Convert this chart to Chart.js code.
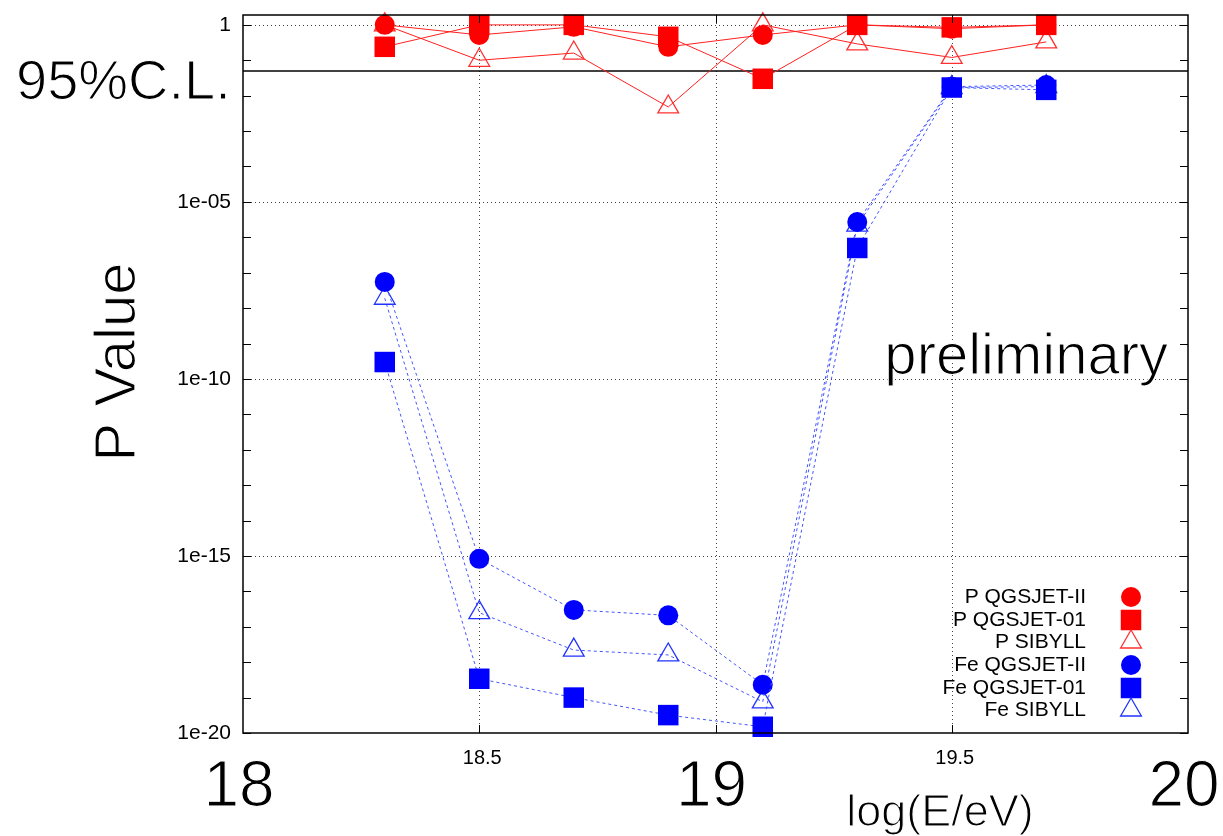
<!DOCTYPE html>
<html>
<head>
<meta charset="utf-8">
<script src="https://cdn.jsdelivr.net/npm/chart.js@4"></script>
<style>
  html, body { margin: 0; padding: 0; background: #fff; }
  #wrap { width: 1223px; height: 836px; }
</style>
</head>
<body>
<div id="wrap"><canvas id="chart" width="1223" height="836"></canvas></div>
<script>
// Data
const energies = [18.3, 18.5, 18.7, 18.9, 19.1, 19.3, 19.5, 19.7];
const pQgsjet2 = [1.0, 0.52, 0.88, 0.24, 0.52, 1.0, 0.78, 1.0];
const pQgsjet01 = [0.24, 1.0, 1.0, 0.46, 0.03, 1.0, 0.85, 1.0];
const pSibyll = [1.0, 0.1, 0.16, 0.0048, 1.0, 0.29, 0.12, 0.33];
const feQgsjet2 = [5.5e-8, 8.3e-16, 3e-17, 2.1e-17, 2.3e-19, 2.7e-6, 0.018, 0.02];
const feQgsjet01 = [3e-10, 3.4e-19, 1e-19, 3.2e-20, 1.5e-20, 5e-7, 0.017, 0.0146];
const feSibyll = [1.9e-8, 2.5e-17, 2.2e-18, 1.6e-18, 7.6e-20, 2.2e-6, 0.017, 0.018];
const clLevel = 0.05;
const xTicks = [18, 18.5, 19, 19.5, 20];
const yMajor = [1, 1e-5, 1e-10, 1e-15, 1e-20];

const FONT = '"Liberation Sans", Helvetica, Arial, sans-serif';
const RED = '#ff0000';
const BLUE = '#0000ff';

function pts(vals) {
    return vals.map((v, i) => ({ x: energies[i], y: v }));
}

function series(label, vals, color, style, radius, hollow, order) {
    const isP = label.startsWith('P ');
    return {
        label: label,
        data: pts(vals),
        borderColor: isP ? '#ff2020' : '#4455ff',
        borderWidth: 1,
        borderDash: isP ? [] : [3, 3],
        pointStyle: style,
        pointRadius: radius,
        pointBorderWidth: hollow ? 1.3 : 0,
        pointBorderColor: hollow ? (isP ? '#ff3030' : '#2233ff') : color,
        pointBackgroundColor: hollow ? 'rgba(0,0,0,0)' : color,
        tension: 0,
        clip: false,
        order: order
    };
}

// higher order is drawn first (underneath)
const datasets = [
    series('P QGSJET-II', pQgsjet2, RED, 'circle', 10, false, 6),
    series('P QGSJET-01', pQgsjet01, RED, 'rect', 14.5, false, 5),
    series('P SIBYLL', pSibyll, RED, 'triangle', 12, true, 7),
    series('Fe QGSJET-II', feQgsjet2, BLUE, 'circle', 10, false, 3),
    series('Fe QGSJET-01', feQgsjet01, BLUE, 'rect', 14.5, false, 2),
    series('Fe SIBYLL', feSibyll, BLUE, 'triangle', 12, true, 4),
    {
        label: 'cl',
        data: [{ x: 18, y: clLevel }, { x: 20, y: clLevel }],
        borderColor: '#000',
        borderWidth: 1.5,
        pointRadius: 0,
        order: 8
    }
];

function drawMarker(ctx, ds, x, y) {
    const r = ds.pointRadius;
    ctx.save();
    ctx.beginPath();
    if (ds.pointStyle === 'circle') {
        ctx.arc(x, y, r, 0, Math.PI * 2);
    } else if (ds.pointStyle === 'rect') {
        const s = Math.SQRT1_2 * r;
        ctx.rect(x - s, y - s, 2 * s, 2 * s);
    } else {
        const h = Math.sqrt(3) / 2 * r;
        ctx.moveTo(x, y - r);
        ctx.lineTo(x + h, y + r / 2);
        ctx.lineTo(x - h, y + r / 2);
        ctx.closePath();
    }
    ctx.fillStyle = ds.pointBackgroundColor;
    ctx.fill();
    if (ds.pointBorderWidth) {
        ctx.lineWidth = ds.pointBorderWidth;
        ctx.strokeStyle = ds.pointBorderColor;
        ctx.stroke();
    }
    ctx.restore();
}

// big labels look light in the original: thin them with a white outline
function lightText(ctx, txt, x, y) {
    ctx.fillText(txt, x, y);
    ctx.save();
    ctx.strokeStyle = '#fff';
    ctx.lineWidth = 1.2;
    ctx.strokeText(txt, x, y);
    ctx.restore();
}

const decoPlugin = {
    id: 'deco',
    beforeDatasetsDraw(chart) {
        const { ctx, chartArea: a, scales: { x, y } } = chart;
        ctx.save();
        ctx.strokeStyle = '#444';
        ctx.lineWidth = 1;
        ctx.setLineDash([1, 3]);
        xTicks.slice(1, -1).forEach(v => {
            const px = Math.round(x.getPixelForValue(v)) + 0.5;
            ctx.beginPath();
            ctx.moveTo(px, a.top);
            ctx.lineTo(px, a.bottom);
            ctx.stroke();
        });
        yMajor.slice(0, -1).forEach(v => {
            const py = Math.round(y.getPixelForValue(v)) + 0.5;
            ctx.beginPath();
            ctx.moveTo(a.left, py);
            ctx.lineTo(a.right, py);
            ctx.stroke();
        });
        ctx.restore();
    },
    afterDraw(chart) {
        const { ctx, chartArea: a, scales: { x, y } } = chart;
        ctx.save();
        // frame
        ctx.strokeStyle = '#000';
        ctx.lineWidth = 1.5;
        ctx.strokeRect(a.left, a.top, a.right - a.left, a.bottom - a.top);
        // tick marks
        ctx.lineWidth = 1;
        for (let k = -20; k <= 0; k++) {
            const py = Math.round(y.getPixelForValue(Math.pow(10, k))) + 0.5;
            ctx.beginPath();
            ctx.moveTo(a.left, py); ctx.lineTo(a.left + 8, py);
            ctx.moveTo(a.right, py); ctx.lineTo(a.right - 8, py);
            ctx.stroke();
        }
        xTicks.slice(1, -1).forEach(v => {
            const px = Math.round(x.getPixelForValue(v)) + 0.5;
            ctx.beginPath();
            ctx.moveTo(px, a.bottom); ctx.lineTo(px, a.bottom - 8);
            ctx.moveTo(px, a.top); ctx.lineTo(px, a.top + 8);
            ctx.stroke();
        });

        ctx.fillStyle = '#000';
        ctx.textAlign = 'center';
        ctx.textBaseline = 'alphabetic';
        // x tick labels: integers big, halves small
        xTicks.forEach(v => {
            const px = x.getPixelForValue(v);
            if (Number.isInteger(v)) {
                ctx.font = '64px ' + FONT;
                lightText(ctx, String(v), px - 4, 806);
            } else {
                ctx.font = '20px ' + FONT;
                ctx.fillText(String(v), px + 3, 764);
            }
        });
        ctx.font = '45px ' + FONT;
        lightText(ctx, 'log(E/eV)', 940, 826);

        // y title
        ctx.save();
        ctx.translate(135, 362);
        ctx.rotate(-Math.PI / 2);
        ctx.font = '58px ' + FONT;
        lightText(ctx, 'P Value', 0, 0);
        ctx.restore();

        ctx.textAlign = 'left';
        ctx.font = '56px ' + FONT;
        lightText(ctx, '95%C.L.', 16, 99);

        ctx.textAlign = 'right';
        ctx.font = '58px ' + FONT;
        lightText(ctx, 'preliminary', 1168, 374);

        // legend
        const rows = [597, 620, 642, 665, 688, 710];
        ctx.font = '21px ' + FONT;
        ctx.textBaseline = 'middle';
        chart.data.datasets.slice(0, 6).forEach((ds, i) => {
            ctx.fillStyle = '#000';
            ctx.fillText(ds.label, 1086, rows[i]);
            drawMarker(ctx, ds, 1131, rows[i]);
        });
        ctx.restore();
    }
};

new Chart(document.getElementById('chart'), {
    type: 'line',
    data: { datasets: datasets },
    plugins: [decoPlugin],
    options: {
        responsive: false,
        animation: false,
        devicePixelRatio: 1,
        layout: { padding: { top: 15, right: 35, left: 0, bottom: 0 } },
        plugins: { legend: { display: false }, tooltip: { enabled: false } },
        scales: {
            x: {
                type: 'linear',
                min: 18,
                max: 20,
                grid: { display: false },
                border: { display: false },
                ticks: { display: false },
                afterFit: s => { s.height = 103; s.paddingLeft = 0; s.paddingRight = 0; }
            },
            y: {
                type: 'logarithmic',
                min: 1e-20,
                max: 1.9,
                grid: { display: false, drawTicks: false },
                border: { display: false },
                afterBuildTicks: s => {
                    const t = [];
                    for (let k = -20; k <= 0; k++) t.push({ value: Math.pow(10, k) });
                    s.ticks = t;
                },
                ticks: {
                    autoSkip: false,
                    padding: 12,
                    color: '#000',
                    font: { size: 21, family: FONT },
                    callback: v => {
                        const k = Math.round(Math.log10(v));
                        if (k % 5 !== 0) return '';
                        return k === 0 ? '1' : '1e-' + String(-k).padStart(2, '0');
                    }
                },
                afterFit: s => { s.width = 243; s.paddingTop = 0; s.paddingBottom = 0; }
            }
        }
    }
});
</script>
</body>
</html>
